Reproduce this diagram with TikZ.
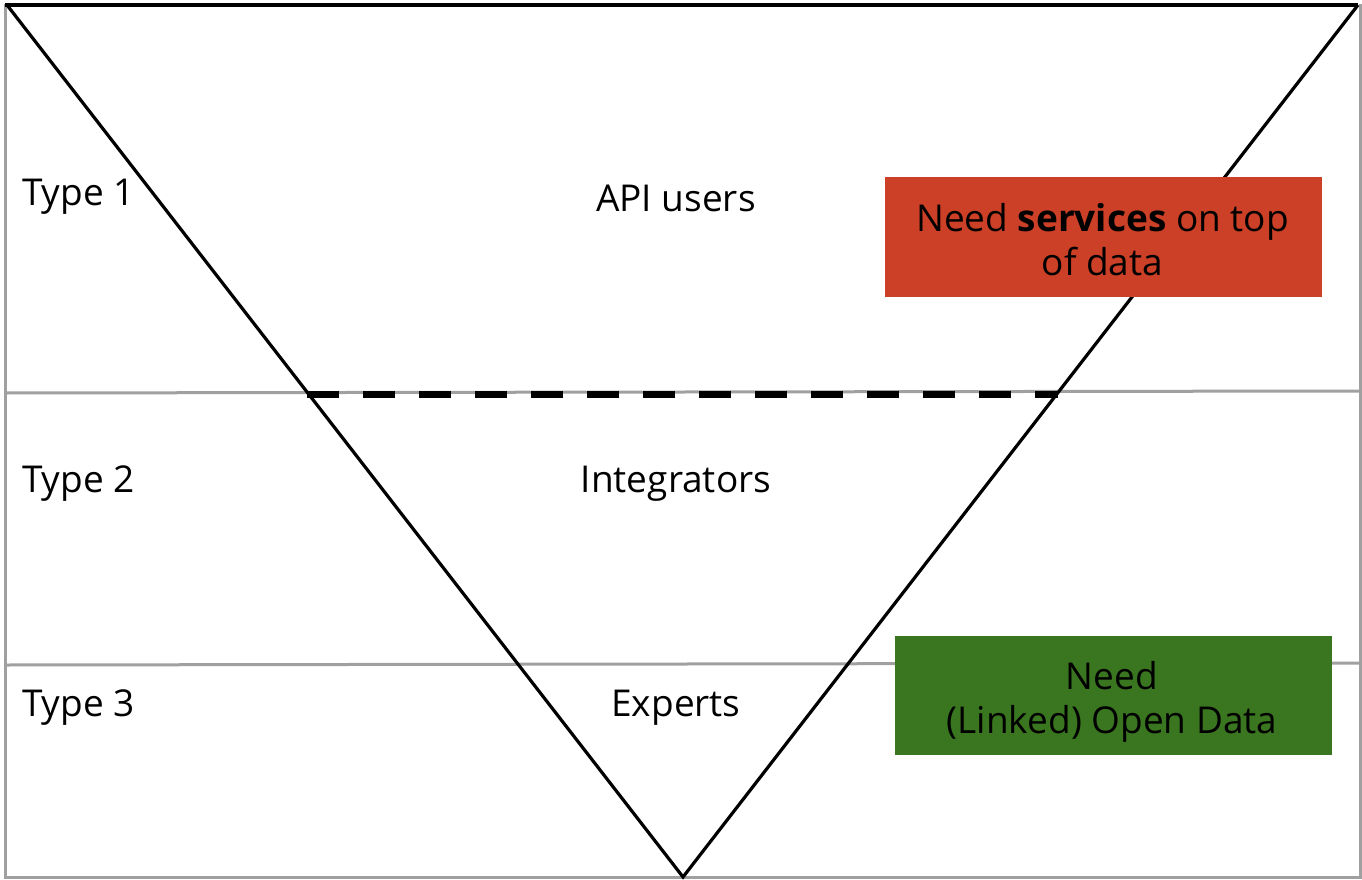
\documentclass[tikz,border=0pt]{standalone}
\usepackage{fontspec}
\setmainfont{Open Sans}
\definecolor{framegray}{RGB}{160,160,160}
\definecolor{boxred}{RGB}{203,64,38}
\definecolor{boxgreen}{RGB}{58,117,32}
\begin{document}
\begin{tikzpicture}[x=1pt,y=-1pt,
  frameline/.style={draw=framegray,line width=3pt},
  triline/.style={draw=black,line width=3.2pt,line join=miter},
  label/.style={font=\fontsize{37}{39}\selectfont,inner sep=0pt,anchor=base},
  needbox/.style={minimum width=437pt,minimum height=120pt,inner sep=0pt},
  needtext/.style={align=center,inner sep=0pt,font=\fontsize{37}{43.5}\selectfont}]
\useasboundingbox (0,0) rectangle (1362,880);
\fill[white] (0,0) rectangle (1362,880);
% frame
\draw[frameline] (5,4) -- (5,877) -- (1360,877) -- (1360,4);
\draw[frameline] (5,393) -- (1360,391);
\draw[frameline] (5,665) -- (1360,663);
% triangle
\coordinate (tl) at (7,5);
\coordinate (tr) at (1358,5);
\coordinate (apex) at (683,877);
\draw[black,line width=4pt] (5,5) -- (tr);
\draw[triline] (tl) -- (apex) -- (tr);
\coordinate (dl) at (307,394);
\coordinate (dr) at (1058,394);
\draw[black,line width=7pt,dash pattern=on 32pt off 24pt] (dl) -- (dr);
% labels
\node[label,anchor=base west] (t1) at (22,205) {Type 1};
\node[label,anchor=base west] (t2) at (22,492) {Type 2};
\node[label,anchor=base west] (t3) at (22,716) {Type 3};
\node[label] (api) at (676,211) {API users};
\node[label] (integ) at (676,492) {Integrators};
\node[label] (exp) at (676,716) {Experts};
% boxes
\node[needbox,fill=boxred] (red) at (1103.5,237) {};
\node[needtext] (redtext) at (1102.5,239.5) {Need \textbf{services} on top\\of data};
\node[needbox,fill=boxgreen,minimum height=119pt] (green) at (1113.5,695.5) {};
\node[needtext] (greentext) at (1112,702) {Need\\(Linked) Open Data};
\end{tikzpicture}
\end{document}
